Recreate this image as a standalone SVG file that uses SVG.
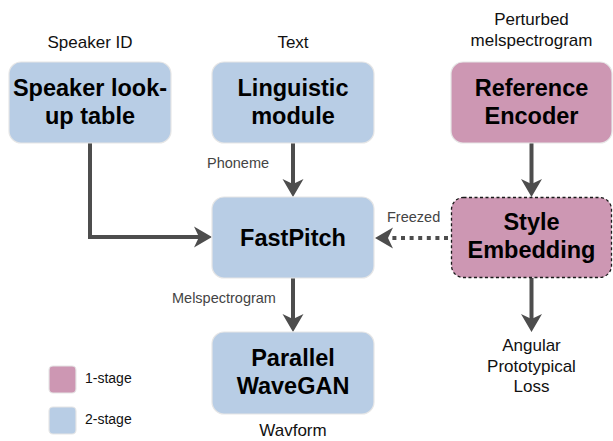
<svg xmlns="http://www.w3.org/2000/svg" width="613" height="441" viewBox="0 0 613 441">
<defs>
<style>
.box{stroke:#e6e6e6;stroke-width:1.2}
.blue{fill:#b8cde5}
.pink{fill:#cd97b3}
.dash{stroke:#1a1a1a;stroke-dasharray:3 2.5;stroke-width:1.3}
.t{font-family:"Liberation Sans",Arial,sans-serif;font-weight:bold;font-size:23.5px;fill:#000;text-anchor:middle}
.lab{font-family:"Liberation Sans",Arial,sans-serif;font-size:17px;fill:#111;text-anchor:middle}
.el{font-family:"Liberation Sans",Arial,sans-serif;font-size:14.5px;fill:#444}
.leg{font-family:"Liberation Sans",Arial,sans-serif;font-size:14px;fill:#111}
.c{fill:none;stroke:#4d4d4d;stroke-width:4}
.dot{stroke-dasharray:4 4.6}
</style>
<marker id="ah" markerUnits="userSpaceOnUse" markerWidth="30" markerHeight="30" viewBox="-15 -15 30 30" refX="0" refY="0" orient="auto">
<path d="M10,0 L-8,-10.5 L-3,0 L-8,10.5 Z" fill="#4d4d4d"/>
</marker>
</defs>
<rect width="613" height="441" fill="#fff"/>

<g id="labels">
<text class="lab" x="90" y="48">Speaker ID</text>
<text class="lab" x="293" y="48">Text</text>
<text class="lab" x="531.5" y="25">Perturbed</text>
<text class="lab" x="531.5" y="46">melspectrogram</text>
<text class="lab" x="531.5" y="351">Angular</text>
<text class="lab" x="531.5" y="372">Prototypical</text>
<text class="lab" x="531.5" y="392">Loss</text>
<text class="lab" x="293" y="436">Wavform</text>
</g>

<g id="connectors">
<path class="c" d="M90,142 V237 H202" marker-end="url(#ah)"/>
<path class="c" d="M293,142 V187" marker-end="url(#ah)"/>
<path class="c" d="M531.5,143 V187" marker-end="url(#ah)"/>
<path class="c" d="M293,278 V322" marker-end="url(#ah)"/>
<path class="c" d="M531.5,278 V322" marker-end="url(#ah)"/>
<path class="c dot" d="M448,238 H385" marker-end="url(#ah)"/>
<text class="el" x="207" y="168">Phoneme</text>
<text class="el" x="172" y="303">Melspectrogram</text>
<text class="el" x="387" y="222">Freezed</text>
</g>

<g id="speaker">
<rect class="box blue" x="9" y="62" width="162" height="81" rx="12"/>
<text class="t" x="90" y="96">Speaker look-</text>
<text class="t" x="90" y="124">up table</text>
</g>
<g id="linguistic">
<rect class="box blue" x="212" y="62" width="162" height="81" rx="12"/>
<text class="t" x="293" y="96">Linguistic</text>
<text class="t" x="293" y="124">module</text>
</g>
<g id="refenc">
<rect class="box pink" x="451" y="62" width="161" height="81" rx="12"/>
<text class="t" x="531.5" y="96">Reference</text>
<text class="t" x="531.5" y="124">Encoder</text>
</g>
<g id="fastpitch">
<rect class="box blue" x="212" y="197" width="162" height="81" rx="12"/>
<text class="t" x="293" y="246">FastPitch</text>
</g>
<g id="style">
<rect class="pink dash" x="451.5" y="197.5" width="160" height="80" rx="12"/>
<text class="t" x="531.5" y="230">Style</text>
<text class="t" x="531.5" y="258">Embedding</text>
</g>
<g id="pwg">
<rect class="box blue" x="212" y="332" width="162" height="82" rx="12"/>
<text class="t" x="293" y="366">Parallel</text>
<text class="t" x="293" y="394">WaveGAN</text>
</g>

<g id="legend">
<rect class="box pink" x="49" y="366" width="27" height="27" rx="4"/>
<rect class="box blue" x="49" y="407" width="27" height="27" rx="4"/>
<text class="leg" x="85" y="383">1-stage</text>
<text class="leg" x="85" y="424">2-stage</text>
</g>
</svg>
